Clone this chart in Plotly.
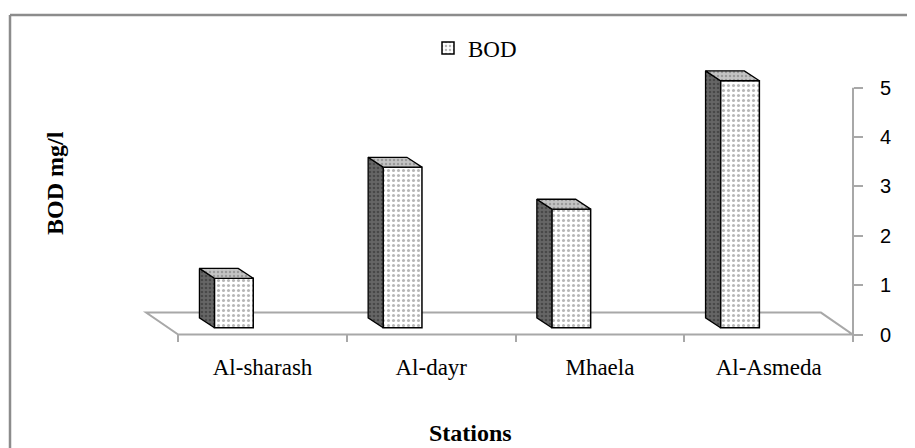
import plotly.graph_objects as go

# ---- data ----
stations = ["Al-sharash", "Al-dayr", "Mhaela", "Al-Asmeda"]
bod_values = [1.0, 3.25, 2.4, 5.0]
y_ticks = [0, 1, 2, 3, 4, 5]
series_name = "BOD"

# ---- layout geometry ----
OFF = 8                                  # page body margin
W, H = 915 - OFF, 448 - OFF
PL, PR, PT, PB = 136, 853, 58, 342       # plot area in window pixels
L, R, T, B = PL - OFF, W - (PR - OFF), PT - OFF, H - (PB - OFF)
XR = [-0.75, 3.5]
YR = [-0.15, 5.6]
PW, PH = PR - PL, PB - PT


def px_x(px):
    return (px - PL) / PW


def px_y(py):
    return (PB - py) / PH


pos = list(range(len(stations)))
bar_w = 0.23
bar_off = -0.17 - bar_w / 2
base = 0.14
ddx, ddy = -0.089, 0.2          # bar depth offset (data units)
fdx, fdy = -0.19, 0.445         # floor depth offset

side_x, side_y, top_x, top_y = [], [], [], []
for p, v in zip(pos, bod_values):
    xl = p + bar_off
    side_x += [xl, xl, xl + ddx, xl + ddx, xl, None]
    side_y += [base, base + v, base + v + ddy, base + ddy, base, None]
    top_x += [xl, xl + bar_w, xl + bar_w + ddx, xl + ddx, xl, None]
    top_y += [base + v, base + v, base + v + ddy, base + v + ddy, base + v, None]

fig = go.Figure()

fig.add_trace(go.Bar(
    x=pos, y=bod_values, base=base, width=bar_w, offset=bar_off,
    name=series_name, showlegend=True,
    marker=dict(color="white",
                line=dict(color="black", width=1.5),
                pattern=dict(shape=".", fgcolor="#6e6e6e", bgcolor="white",
                             size=5, solidity=0.3)),
    hoverinfo="skip",
))
fig.add_trace(go.Scatter(
    x=side_x, y=side_y, mode="lines", fill="toself", showlegend=False,
    line=dict(color="black", width=1.3),
    fillcolor="#5c5c5c",
    fillpattern=dict(shape=".", fgcolor="#2a2a2a", bgcolor="#666666",
                     size=4, solidity=0.35),
    hoverinfo="skip",
))
fig.add_trace(go.Scatter(
    x=top_x, y=top_y, mode="lines", fill="toself", showlegend=False,
    line=dict(color="black", width=1.3),
    fillcolor="#b0b0b0",
    fillpattern=dict(shape=".", fgcolor="#707070", bgcolor="#c4c4c4",
                     size=4, solidity=0.3),
    hoverinfo="skip",
))

n = len(stations)
x0f, x1f = -0.5, n - 0.5
shapes = [
    dict(type="path", xref="x", yref="y", layer="below",
         path=f"M {x0f},0 L {x1f},0 L {x1f + fdx},{fdy} L {x0f + fdx},{fdy} Z",
         fillcolor="white", line=dict(color="#a8a8a8", width=2)),
    dict(type="line", xref="paper", yref="y", x0=1, x1=1,
         y0=y_ticks[0], y1=y_ticks[-1], line=dict(color="#a8a8a8", width=2)),
    dict(type="line", xref="paper", yref="paper",
         x0=px_x(10), x1=px_x(10), y0=px_y(470), y1=px_y(15),
         line=dict(color="#8c8c8c", width=2.5)),
    dict(type="line", xref="paper", yref="paper",
         x0=px_x(10), x1=px_x(940), y0=px_y(15), y1=px_y(15),
         line=dict(color="#8c8c8c", width=2.5)),
]

annotations = [
    dict(text="<b>BOD mg/l</b>", xref="paper", yref="paper",
         x=px_x(55), y=px_y(183), xanchor="center", yanchor="middle",
         textangle=-90, showarrow=False,
         font=dict(family="Liberation Serif", size=24, color="black")),
    dict(text="<b>Stations</b>", xref="paper", yref="paper",
         x=px_x(470), y=px_y(433), xanchor="center", yanchor="middle",
         showarrow=False,
         font=dict(family="Liberation Serif", size=24, color="black")),
]

fig.update_layout(
    width=W, height=H,
    margin=dict(l=L, r=R, t=T, b=B, autoexpand=False),
    paper_bgcolor="white", plot_bgcolor="white",
    shapes=shapes, annotations=annotations,
    showlegend=True,
    legend=dict(x=px_x(428), y=px_y(48), xanchor="left", yanchor="middle",
                orientation="h", bgcolor="rgba(0,0,0,0)",
                font=dict(family="Liberation Serif", size=23, color="black")),
    xaxis=dict(range=XR, tickmode="array", tickvals=pos, ticktext=stations,
               ticks="", showgrid=False, zeroline=False, showline=False,
               automargin=False, ticklabelstandoff=9,
               tickfont=dict(family="Liberation Serif", size=23, color="black"),
               minor=dict(tickmode="array",
                          tickvals=[p - 0.5 for p in pos] + [pos[-1] + 0.5],
                          ticks="inside", ticklen=8, tickwidth=1.5,
                          tickcolor="#a8a8a8", showgrid=False)),
    yaxis=dict(range=YR, side="right", tickmode="array", tickvals=y_ticks,
               ticks="outside", ticklen=9, tickwidth=1.5, tickcolor="#a8a8a8",
               showgrid=False, zeroline=False, showline=False,
               automargin=False, ticklabelstandoff=13,
               tickfont=dict(family="Liberation Sans", size=20, color="black")),
)

fig.write_html("out.html")
